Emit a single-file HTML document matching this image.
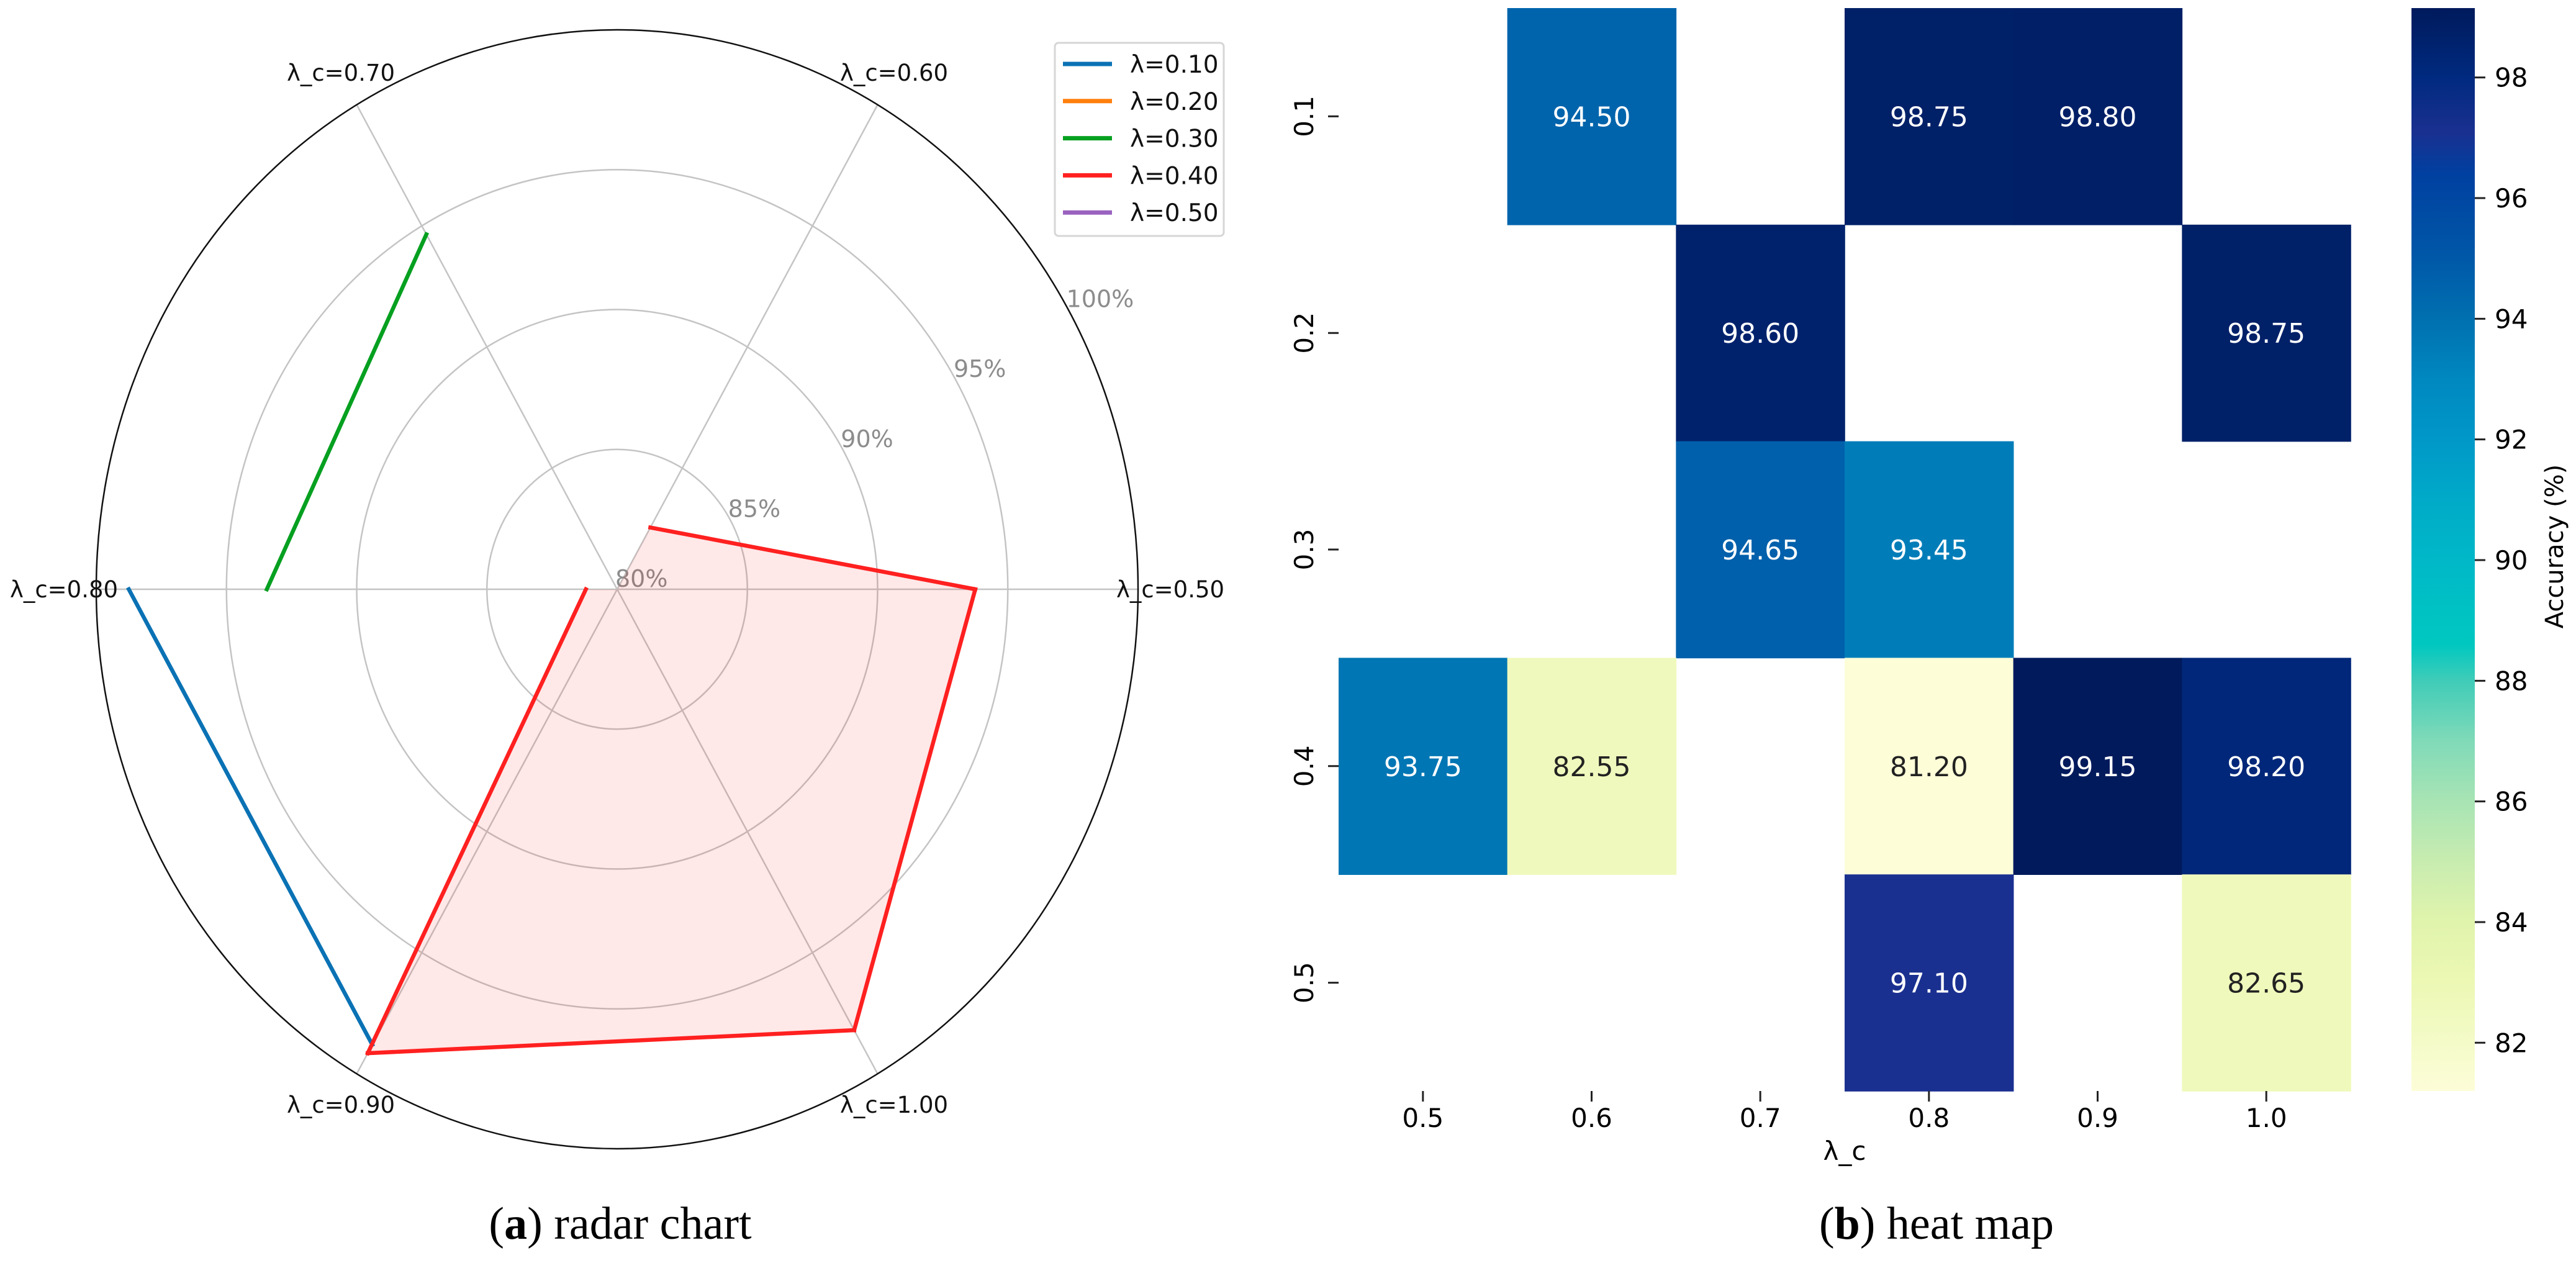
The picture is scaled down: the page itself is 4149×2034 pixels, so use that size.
<!DOCTYPE html>
<html><head><meta charset="utf-8"><style>
html,body{margin:0;padding:0;background:#fff;}
svg{display:block;}
text{font-family:"DejaVu Sans","Liberation Sans",sans-serif;}
.cap{font-family:"Liberation Serif",serif;}
</style></head><body>
<svg id="fig" width="4149" height="2034" viewBox="0 0 4149 2034" xmlns="http://www.w3.org/2000/svg">
<g id="radar"></g>
<g id="heat"></g>
<text class="cap" x="999" y="1995" font-size="74" text-anchor="middle">(<tspan font-weight="bold">a</tspan>) radar chart</text>
<text class="cap" x="3119" y="1995" font-size="74" text-anchor="middle">(<tspan font-weight="bold">b</tspan>) heat map</text>
</svg>
<script>
// ---- data ----
const lambdaC = ["0.5","0.6","0.7","0.8","0.9","1.0"];
const lambdas = ["0.1","0.2","0.3","0.4","0.5"];
const row01 = [null, 94.50, null, 98.75, 98.80, null];
const row02 = [null, null, 98.60, null, null, 98.75];
const row03 = [null, null, 94.65, 93.45, null, null];
const row04 = [93.75, 82.55, null, 81.20, 99.15, 98.20];
const row05 = [null, null, null, 97.10, null, 82.65];
const radarAxisLabels = ["λ_c=0.50","λ_c=0.60","λ_c=0.70","λ_c=0.80","λ_c=0.90","λ_c=1.00"];
const legendLabels = ["λ=0.10","λ=0.20","λ=0.30","λ=0.40","λ=0.50"];
const radialTicks = [80, 85, 90, 95, 100];
const cbarTicks = [82, 84, 86, 88, 90, 92, 94, 96, 98];
const rows = [row01,row02,row03,row04,row05];
const colors = ["#0a72b4","#ff7f0e","#06a020","#ff2020","#9a62c0"];

const NS="http://www.w3.org/2000/svg";
function mk(parent, tag, attrs, txt){
  const e=document.createElementNS(NS,tag);
  for(const k in attrs) e.setAttribute(k,attrs[k]);
  if(txt!==undefined) e.textContent=txt;
  parent.appendChild(e); return e;
}

// ---- radar ----
const R = document.getElementById('radar');
const cx=994, cy=949, rx=839, ry=901, rMin=80, rMax=100;
function rad(v){ return (v-rMin)/(rMax-rMin); }
function pt(i,v){ const a=i*Math.PI/3; const f=rad(v); return [cx+f*rx*Math.cos(a), cy-f*ry*Math.sin(a)]; }
radialTicks.slice(1,4).forEach(t=>{
  const f=rad(t);
  const e=mk(R,'ellipse',{cx:cx,cy:cy,rx:f*rx,ry:f*ry,fill:'none',stroke:'#c4c4c4','stroke-width':2.5});
  
  
});
for(let i=0;i<6;i++){
  const p=pt(i,rMax);
  const e=mk(R,'line',{x1:cx,y1:cy,x2:p[0],y2:p[1],stroke:'#c4c4c4','stroke-width':2.5});
  
  
}
const outer=mk(R,'ellipse',{cx:cx,cy:cy,rx:rx,ry:ry,fill:'none',stroke:'#111','stroke-width':2.5});


radialTicks.forEach(t=>{
  const f=rad(t);
  const a=30*Math.PI/180;
  const x=cx+f*rx*Math.cos(a)-3, y=cy-f*ry*Math.sin(a)-4;
  const e=mk(R,'text',{x:x,y:y,'font-size':38,fill:'#8c8c8c','text-anchor':'start'},t+'%');
  
  
});
(function(){
  const s=rows[3]; const n=s.length;
  let start=0; for(let i=0;i<n;i++){ if(s[i]===null){start=(i+1)%n;} }
  const pts=[[cx,cy]];
  for(let k=0;k<n;k++){ const i=(start+k)%n; if(s[i]===null) break; pts.push(pt(i,s[i])); }
  const e=mk(R,'polygon',{points:pts.map(p=>p.join(',')).join(' '),fill:'#ff2020','fill-opacity':0.1,stroke:'none'});
  
  
})();
rows.forEach((s,si)=>{
  const n=s.length;
  for(let i=0;i<n;i++){
    const j=(i+1)%n;
    if(s[i]!==null && s[j]!==null){
      const a=pt(i,s[i]), b=pt(j,s[j]);
      const e=mk(R,'line',{x1:a[0],y1:a[1],x2:b[0],y2:b[1],stroke:colors[si],'stroke-width':6.5,'stroke-linecap':'square'});
      
      
    }
  }
});
const lblPos=[[1885,962],[1440,130],[549,130],[103,962],[549,1792],[1440,1792]];
radarAxisLabels.forEach((l,i)=>{
  const e=mk(R,'text',{x:lblPos[i][0],y:lblPos[i][1],'font-size':37,fill:'#111','text-anchor':'middle'},l);
  
  
});
const L=mk(R,'g',{});


const lb=mk(L,'rect',{x:1699,y:69,width:272,height:311,rx:6,fill:'#fff',stroke:'#d6d6d6','stroke-width':3});


legendLabels.forEach((l,i)=>{
  const y=103+i*59.8;
  const ln=mk(L,'line',{x1:1712,y1:y,x2:1791,y2:y,stroke:colors[i],'stroke-width':7});
  
  
  const t=mk(L,'text',{x:1820,y:y+14,'font-size':39,fill:'#111'},l);
  
  
});

// ---- heat map ----
const H=document.getElementById('heat');
const hx0=2156, hx1=3786, hy0=13, hy1=1757;
const cw=(hx1-hx0)/lambdaC.length, ch=(hy1-hy0)/lambdas.length;
const vmin=81.2, vmax=99.15;
const stops=[[81.2,"#fdfdd8"],[82,"#f4fbc8"],[83,"#ecf8b4"],[84,"#e0f4ac"],[85,"#c8ecb0"],[86,"#a8e4b4"],[87,"#80dab8"],[88,"#40ccb8"],[88.6,"#00c8c0"],[90,"#00b8c8"],[91,"#00aac8"],[92,"#0098c8"],[93,"#0088c0"],[94,"#0070b0"],[95,"#0058a8"],[96.4,"#0040a0"],[97.1,"#1a3090"],[98,"#002a7f"],[99.15,"#001a5c"]];
function hex(c){return [parseInt(c.substr(1,2),16),parseInt(c.substr(3,2),16),parseInt(c.substr(5,2),16)];}
function cmap(v){
  if(v<=stops[0][0]) return stops[0][1];
  for(let i=1;i<stops.length;i++){
    if(v<=stops[i][0]){
      const t=(v-stops[i-1][0])/(stops[i][0]-stops[i-1][0]);
      const a=hex(stops[i-1][1]), b=hex(stops[i][1]);
      return 'rgb('+a.map((x,k)=>Math.round(x+(b[k]-x)*t)).join(',')+')';
    }
  }
  return stops[stops.length-1][1];
}
function xs(j){return hx0+j*cw;}
function ys(i){return hy0+i*ch;}
rows.forEach((s,i)=>{
  s.forEach((v,j)=>{
    if(v===null) return;
    const r=mk(H,'rect',{x:xs(j),y:ys(i),width:cw+0.8,height:ch+0.8,fill:cmap(v)});
    
    
    const t=mk(H,'text',{x:xs(j)+cw/2,y:ys(i)+ch/2+16,'font-size':44,'text-anchor':'middle',fill:(v<(vmin+vmax)/2?'#222':'#fff')},v.toFixed(2));
    
    
  });
});
lambdas.forEach((l,i)=>{
  const y=ys(i)+ch/2;
  const tk=mk(H,'line',{x1:hx0-17,y1:y,x2:hx0,y2:y,stroke:'#222','stroke-width':3});
  
  
  const t=mk(H,'text',{x:0,y:0,'font-size':42,'text-anchor':'middle',transform:'translate(2115,'+y+') rotate(-90)'},l);
  
  
});
lambdaC.forEach((l,j)=>{
  const x=xs(j)+cw/2;
  const tk=mk(H,'line',{x1:x,y1:hy1,x2:x,y2:hy1+17,stroke:'#222','stroke-width':3});
  
  
  const t=mk(H,'text',{x:x,y:1815,'font-size':42,'text-anchor':'middle'},l);
  
  
});
const xt=mk(H,'text',{x:(hx0+hx1)/2,y:1868,'font-size':42,'text-anchor':'middle'},'λ_c');


const cbx0=3884, cbx1=3986;
const defs=mk(H,'defs',{});
const grad=mk(defs,'linearGradient',{id:'cbg',x1:0,y1:1,x2:0,y2:0});
stops.forEach(s=>{ mk(grad,'stop',{offset:((s[0]-vmin)/(vmax-vmin)),'stop-color':s[1]}); });
const cb=mk(H,'rect',{x:cbx0,y:hy0,width:cbx1-cbx0,height:hy1-hy0,fill:'url(#cbg)'});


function cy2(v){return hy1-(v-vmin)/(vmax-vmin)*(hy1-hy0);}
cbarTicks.forEach(t=>{
  const y=cy2(t);
  const tk=mk(H,'line',{x1:cbx1,y1:y,x2:cbx1+17,y2:y,stroke:'#222','stroke-width':3});
  
  
  const tl=mk(H,'text',{x:4018,y:y+15,'font-size':42},String(t));
  
  
});
const ct=mk(H,'text',{x:0,y:0,'font-size':40,'text-anchor':'middle',transform:'translate(4128,880) rotate(-90)'},'Accuracy (%)');


</script>
</body></html>
